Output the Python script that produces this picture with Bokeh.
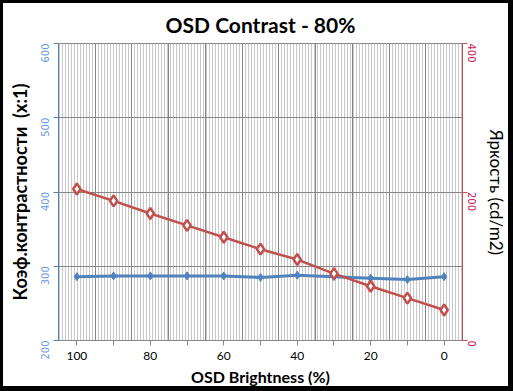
import math
from bokeh.plotting import figure
from bokeh.models import Range1d, LinearAxis, FixedTicker, BoxAnnotation
from bokeh.embed import file_html
from bokeh.resources import INLINE

brightness = [100, 90, 80, 70, 60, 50, 40, 30, 20, 10, 0]
contrast = [286, 287, 287, 287, 287, 285, 288, 286, 284, 282, 286]
luminance = [204, 188, 171, 155, 139, 123, 109, 90, 73, 57, 41]
x_labels = ["100", "80", "60", "40", "20", "0"]

BLUE = "#4f81bd"
RED = "#c0504d"
GRID = "#868686"

p = figure(width=513, height=391, output_backend="svg", toolbar_location=None,
           x_range=Range1d(105, -5), y_range=Range1d(200, 600),
           min_border_left=55, min_border_right=54, min_border_top=39, min_border_bottom=54,
           background_fill_color="white", border_fill_color="white")
p.styles = {"border-style": "solid", "border-color": "black",
            "border-width": "3px 5px 5px 3px", "overflow": "hidden"}
p.extra_y_ranges = {"lum": Range1d(0, 400)}

p.title.text = "OSD Contrast - 80%"
p.title.align = "center"
p.title.text_font = "Lato"
p.title.text_font_size = "21px"
p.title.text_font_style = "bold"
p.title.text_color = "black"
p.title.standoff = 13

p.outline_line_color = GRID
p.outline_line_width = 1

# fine vertical stripes in plot area
stripes = BoxAnnotation(fill_alpha=0, line_alpha=0, hatch_pattern="vertical_line",
                        hatch_color="#c8c8c8", hatch_scale=3, hatch_weight=1, level="image")
p.add_layout(stripes)

# x axis
xa = p.xaxis[0]
xa.ticker = FixedTicker(ticks=brightness)
xa.major_label_overrides = {b: (str(b) if str(b) in x_labels else "") for b in brightness}
xa.minor_tick_line_color = None
xa.major_tick_out = 5
xa.major_tick_in = 0
xa.axis_line_color = GRID
xa.major_tick_line_color = GRID
xa.major_label_text_font = "Lato"
xa.major_label_text_font_size = "12px"
xa.major_label_text_color = "black"
xa.major_label_standoff = 6
xa.axis_label = "OSD Brightness (%)"
xa.axis_label_text_font = "Lato"
xa.axis_label_text_font_size = "16px"
xa.axis_label_text_font_style = "bold"
xa.axis_label_text_color = "black"
xa.axis_label_standoff = 4

# left axis
ya = p.yaxis[0]
ya.ticker = FixedTicker(ticks=[200, 300, 400, 500, 600])
ya.minor_tick_line_color = None
ya.major_tick_out = 5
ya.major_tick_in = 0
ya.axis_line_color = BLUE
ya.major_tick_line_color = BLUE
ya.major_label_orientation = math.pi / 2
ya.major_label_text_font = "DejaVu Sans"
ya.major_label_text_font_size = "10px"
ya.major_label_text_color = "#6d9be0"
ya.major_label_standoff = 9
ya.axis_label = "Коэф.контрастности\u00a0\u00a0(x:1)"
ya.axis_label_text_font = "Lato"
ya.axis_label_text_font_size = "18px"
ya.axis_label_text_font_style = "bold"
ya.axis_label_text_color = "black"
ya.axis_label_standoff = 3

# right axis
ra = LinearAxis(y_range_name="lum", ticker=FixedTicker(ticks=[0, 200, 400]))
ra.minor_tick_line_color = None
ra.major_tick_out = 5
ra.major_tick_in = 0
ra.axis_line_color = RED
ra.major_tick_line_color = RED
ra.major_label_orientation = -math.pi / 2
ra.major_label_text_font = "DejaVu Sans"
ra.major_label_text_font_size = "10px"
ra.major_label_text_color = "#cc1450"
ra.major_label_standoff = 4
ra.axis_label = "Яркость (cd/m2)"
ra.axis_label_text_font = "Lato"
ra.axis_label_text_font_size = "17px"
ra.axis_label_text_font_style = "normal"
ra.axis_label_text_color = "black"
ra.axis_label_standoff = 3
p.add_layout(ra, "right")

# grids
p.xgrid.ticker = FixedTicker(ticks=[b - 5 for b in brightness[:-1]])
p.xgrid.grid_line_color = GRID
p.xgrid.grid_line_width = 1
p.ygrid.ticker = FixedTicker(ticks=[300, 400, 500])
p.ygrid.grid_line_color = GRID
p.ygrid.grid_line_width = 1

# series
p.line(brightness, contrast, line_color=BLUE, line_width=3)
p.scatter(brightness, contrast, marker="diamond", size=8, fill_color=BLUE, line_color=BLUE)

p.line(brightness, luminance, y_range_name="lum", line_color=RED, line_width=2.5)
p.scatter(brightness, luminance, y_range_name="lum", marker="diamond", size=11,
          fill_color="white", line_color=RED, line_width=2.5)

open("out.html", "w").write(file_html(p, INLINE))
